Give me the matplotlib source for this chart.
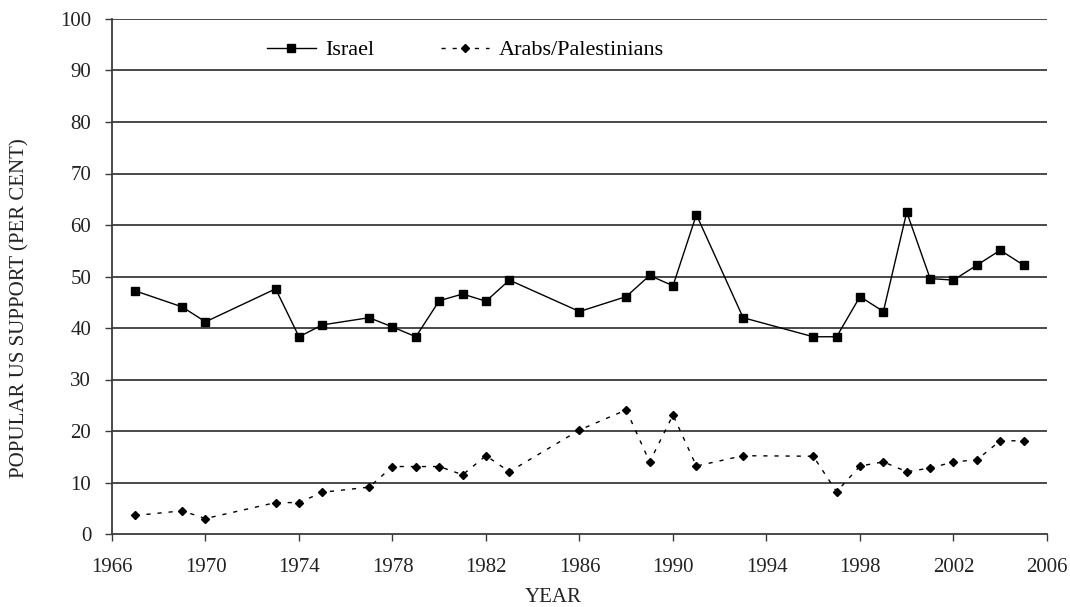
import matplotlib
matplotlib.use("Agg")
import matplotlib.pyplot as plt

# ---- data ----
israel_years = [1967, 1969, 1970, 1973, 1974, 1975, 1977, 1978, 1979, 1980, 1981, 1982, 1983,
                1986, 1988, 1989, 1990, 1991, 1993, 1996, 1997, 1998, 1999, 2000, 2001, 2002,
                2003, 2004, 2005]
israel_values = [47.2, 44.1, 41.2, 47.6, 38.3, 40.6, 42.0, 40.2, 38.3, 45.3, 46.6, 45.2, 49.3,
                 43.2, 46.1, 50.2, 48.2, 62.0, 42.0, 38.3, 38.3, 46.1, 43.2, 62.5, 49.6, 49.3,
                 52.2, 55.1, 52.2]

arab_years = [1967, 1969, 1970, 1973, 1974, 1975, 1977, 1978, 1979, 1980, 1981, 1982, 1983,
              1986, 1988, 1989, 1990, 1991, 1993, 1996, 1997, 1998, 1999, 2000, 2001, 2002,
              2003, 2004, 2005]
arab_values = [3.6, 4.5, 3.0, 6.1, 6.1, 8.1, 9.1, 13.1, 13.1, 13.1, 11.5, 15.2, 12.1,
               20.2, 24.1, 14.0, 23.1, 13.2, 15.2, 15.1, 8.2, 13.2, 14.0, 12.1, 12.8, 14.0,
               14.4, 18.1, 18.1]

x_ticks = [1966, 1970, 1974, 1978, 1982, 1986, 1990, 1994, 1998, 2002, 2006]
y_ticks = [0, 10, 20, 30, 40, 50, 60, 70, 80, 90, 100]

series_labels = ["Israel", "Arabs/Palestinians"]

# ---- figure ----
plt.rcParams['font.family'] = ['Liberation Serif', 'DejaVu Serif']
W, H = 1070, 607
fig = plt.figure(figsize=(W / 100, H / 100), dpi=100)
ax = fig.add_axes([112 / W, 1 - 534 / H, (1047 - 112) / W, (534 - 19) / H])

for yv in y_ticks[1:]:
    ax.axhline(yv, color='#3a3a3a', lw=1.3, zorder=1)

ax.plot(israel_years, israel_values, color='black', lw=1.0, marker='s',
        markersize=5.5, markerfacecolor='black', markeredgecolor='black',
        label=series_labels[0], zorder=3)
ax.plot(arab_years, arab_values, color='black', lw=1.0, linestyle=(0, (3, 5)),
        marker='D', markersize=4.5, markerfacecolor='black', markeredgecolor='black',
        label=series_labels[1], zorder=3)

ax.set_xlim(1966, 2006)
ax.set_ylim(0, 100)
ax.set_xticks(x_ticks)
ax.set_yticks(y_ticks)
ax.tick_params(axis='both', direction='out', length=5, width=1.0, color='#3a3a3a',
               labelsize=15, labelcolor='#222222')
ax.tick_params(axis='x', pad=12)
ax.tick_params(axis='y', pad=10)

for side in ['top', 'right']:
    ax.spines[side].set_visible(False)
for side in ['left', 'bottom']:
    ax.spines[side].set_color('#3a3a3a')
    ax.spines[side].set_linewidth(1.3)

fig.text(20 / W, 1 - 308 / H, "POPULAR US SUPPORT (PER CENT)", rotation=90,
         ha='center', va='center', fontsize=15, color='#222222')
fig.text(553 / W, 1 - 597 / H, "YEAR", ha='center', va='center', fontsize=15,
         color='#222222')

leg = ax.legend(loc='center left', bbox_to_anchor=((267 - 112) / 935, (534 - 50) / 515),
                ncol=2, frameon=False, fontsize=16, handlelength=2.2,
                handletextpad=0.4, columnspacing=3.0, borderaxespad=0, borderpad=0)

fig.savefig("out.png", dpi=100)
